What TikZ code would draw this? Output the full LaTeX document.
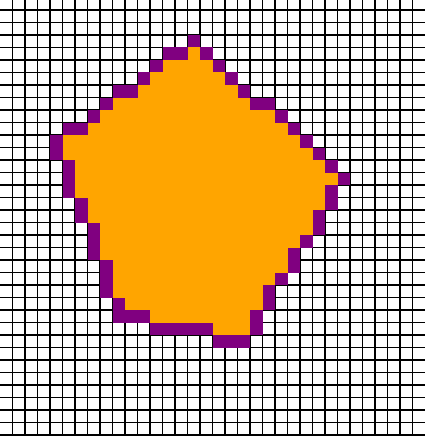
\documentclass[tikz,border=0pt]{standalone}
\usepackage{tikz}
\definecolor{cellorange}{RGB}{255,165,0}
\definecolor{cellpurple}{RGB}{128,0,128}

\begin{document}
\begin{tikzpicture}[x=0.5cm, y=0.5cm,
  gridline/.style={black, line width=1.2pt},
  inside/.style={fill=cellorange},
  rim/.style={fill=cellpurple}]
  \useasboundingbox (0,-34.08) rectangle (34,0.8);
  \fill[white] (0,-34.08) rectangle (34,0.8);
  \foreach \i in {1,...,33}
    \draw[gridline] (\i,-34.08) -- (\i,0.8);
  \foreach \j in {-34,...,0}
    \draw[gridline] (0,\j) -- (34,\j);
  \foreach \r/\a/\b in {3/15/15, 4/13/16, 5/12/17, 6/11/18, 7/9/19, 8/8/21,
      9/7/22, 10/5/23, 11/5/24, 12/6/25, 13/6/26, 14/6/25, 15/7/25, 16/7/24,
      17/8/24, 18/8/23, 19/8/22, 20/9/22, 21/9/21, 22/9/20, 23/10/20,
      24/12/19, 25/17/19}
    \fill[inside] (\a,-\r-1) rectangle (\b+1,-\r);
  \foreach \r/\a/\b in {2/15/15, 3/13/14, 3/16/16, 4/12/12, 4/17/17,
      5/11/11, 5/18/18, 6/9/10, 6/19/19, 7/8/8, 7/20/21, 8/7/7, 8/22/22,
      9/5/6, 9/23/23, 10/4/4, 10/24/24, 11/4/4, 11/25/25, 12/5/5, 12/26/26,
      13/5/5, 13/27/27, 14/5/5, 14/26/26, 15/6/6, 15/26/26, 16/6/6, 16/25/25,
      17/7/7, 17/25/25, 18/7/7, 18/24/24, 19/7/7, 19/23/23, 20/8/8, 20/23/23,
      21/8/8, 21/22/22, 22/8/8, 22/21/21, 23/9/9, 23/21/21, 24/9/11, 24/20/20,
      25/12/16, 25/20/20, 26/17/19}
    \fill[rim] (\a,-\r-1) rectangle (\b+1,-\r);
\end{tikzpicture}
\end{document}
